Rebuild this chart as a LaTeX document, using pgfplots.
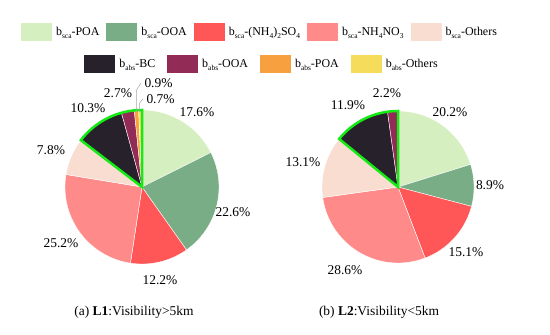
\documentclass[border=0pt]{standalone}
\usepackage{fontspec}
\setmainfont{Liberation Serif}
\usepackage{pgfplots}
\pgfplotsset{compat=1.18}
\definecolor{cPOA}{HTML}{D6EFC0}
\definecolor{cOOA}{HTML}{78AD85}
\definecolor{cSO4}{HTML}{FF5757}
\definecolor{cNO3}{HTML}{FF8A8A}
\definecolor{cOth}{HTML}{F8DDD0}
\definecolor{cBC}{HTML}{27212B}
\definecolor{caOOA}{HTML}{922C56}
\definecolor{caPOA}{HTML}{F6A040}
\definecolor{caOth}{HTML}{F5DC5A}
\definecolor{cGreen}{HTML}{14EB14}
% pie slice: centre x, centre y, radius, cumulative start (%), value (%), colour
\newcommand\slice[6]{%
  \pgfmathsetmacro\angA{90-3.6*(#4+#5)}%
  \pgfmathsetmacro\angB{90-3.6*(#4)}%
  \addplot[fill=#6, draw=white, line width=0.4pt, domain=\angA:\angB, samples=60, variable=\t, forget plot]
    ({#1+#3*cos(\t)},{#2+#3*sin(\t)}) -- (axis cs:#1,#2) -- cycle;
}
\newcommand\outlineslice[5]{%
  \pgfmathsetmacro\angA{90-3.6*(#4+#5)}%
  \pgfmathsetmacro\angB{90-3.6*(#4)}%
  \addplot[draw=cGreen, fill=none, line width=2.5bp, line join=miter, domain=\angA:\angB, samples=60, variable=\t, forget plot]
    ({#1+#3*cos(\t)},{#2+#3*sin(\t)}) -- (axis cs:#1,#2) -- cycle;
}
\newcommand\sub[1]{\raisebox{-3.5bp}{\fontsize{7.5}{8}\selectfont #1}}
\newcommand\lbl{\fontsize{13.5}{15}\selectfont}
\pgfplotsset{
  pieaxis/.style={width=550bp, height=334bp, scale only axis, xmin=0, xmax=550, ymin=0, ymax=334, hide axis, clip=false,
    legend image code/.code={\fill[##1, draw=none] (0bp,-9bp) rectangle (31bp,9bp);},
    legend cell align=left,
    legend style={draw=none, fill=none, anchor=center, inner sep=0pt, outer sep=0pt,
      font=\fontsize{12}{14}\selectfont,
      /tikz/every odd column/.append style={column sep=2bp},
      /tikz/every even column/.append style={column sep=5bp}}},
}
\begin{document}
\begin{tikzpicture}
\begin{axis}[pieaxis, legend columns=5, legend style={at={(0.4727,0.904)}}]
\addlegendimage{fill=cPOA}\addlegendentry{b\sub{sca}-POA}
\addlegendimage{fill=cOOA}\addlegendentry{b\sub{sca}-OOA}
\addlegendimage{fill=cSO4}\addlegendentry{b\sub{sca}-(NH\sub{4})\sub{2}SO\sub{4}}
\addlegendimage{fill=cNO3}\addlegendentry{b\sub{sca}-NH\sub{4}NO\sub{3}}
\addlegendimage{fill=cOth}\addlegendentry{b\sub{sca}-Others}
% Pie 1 (L1)
\slice{142}{147}{77}{0}{17.6}{cPOA}
\slice{142}{147}{77}{17.6}{22.6}{cOOA}
\slice{142}{147}{77}{40.2}{12.2}{cSO4}
\slice{142}{147}{77}{52.4}{25.2}{cNO3}
\slice{142}{147}{77}{77.6}{7.8}{cOth}
\slice{142}{147}{77}{85.4}{10.3}{cBC}
\slice{142}{147}{77}{95.7}{2.7}{caOOA}
\slice{142}{147}{77}{98.4}{0.9}{caPOA}
\slice{142}{147}{77}{99.3}{0.7}{caOth}
\outlineslice{142}{147}{77}{85.4}{14.6}
% Pie 2 (L2)
\slice{398}{147}{76}{0}{20.2}{cPOA}
\slice{398}{147}{76}{20.2}{8.9}{cOOA}
\slice{398}{147}{76}{29.1}{15.1}{cSO4}
\slice{398}{147}{76}{44.2}{28.6}{cNO3}
\slice{398}{147}{76}{72.8}{13.1}{cOth}
\slice{398}{147}{76}{85.9}{11.9}{cBC}
\slice{398}{147}{76}{97.8}{2.2}{caOOA}
\outlineslice{398}{147}{76}{85.9}{14.1}
% leader lines
\draw[gray!70, line width=0.5pt] (axis cs:136.5,222) -- (axis cs:136.5,244) -- (axis cs:141,251);
\draw[gray!70, line width=0.5pt] (axis cs:139.5,222) -- (axis cs:139.5,231) -- (axis cs:143,235);
% labels pie 1
\node[font=\lbl] at (axis cs:197,222) {17.6\%};
\node[font=\lbl] at (axis cs:233,122) {22.6\%};
\node[font=\lbl] at (axis cs:160,54) {12.2\%};
\node[font=\lbl] at (axis cs:61,91) {25.2\%};
\node[font=\lbl] at (axis cs:51,184) {7.8\%};
\node[font=\lbl] at (axis cs:88,226) {10.3\%};
\node[font=\lbl] at (axis cs:118,241) {2.7\%};
\node[font=\lbl, anchor=west] at (axis cs:141,251) {0.9\%};
\node[font=\lbl, anchor=west] at (axis cs:143,235) {0.7\%};
% labels pie 2
\node[font=\lbl] at (axis cs:450,222) {20.2\%};
\node[font=\lbl] at (axis cs:490,149) {8.9\%};
\node[font=\lbl] at (axis cs:466,82) {15.1\%};
\node[font=\lbl] at (axis cs:345,64) {28.6\%};
\node[font=\lbl] at (axis cs:303,172) {13.1\%};
\node[font=\lbl] at (axis cs:348,229) {11.9\%};
\node[font=\lbl] at (axis cs:387,241) {2.2\%};
% captions
\node[font=\fontsize{13.5}{16}\selectfont] at (axis cs:134,22) {(a) \textbf{L1}:Visibility>5km};
\node[font=\fontsize{13.5}{16}\selectfont] at (axis cs:379,22) {(b) \textbf{L2}:Visibility<5km};
\path (axis cs:0,0) rectangle (axis cs:550,334);
\end{axis}
\begin{axis}[pieaxis, legend columns=4, legend style={at={(0.4764,0.8084)}, /tikz/every even column/.append style={column sep=10bp}}]
\addlegendimage{fill=cBC}\addlegendentry{b\sub{abs}-BC}
\addlegendimage{fill=caOOA}\addlegendentry{b\sub{abs}-OOA}
\addlegendimage{fill=caPOA}\addlegendentry{b\sub{abs}-POA}
\addlegendimage{fill=caOth}\addlegendentry{b\sub{abs}-Others}
\path (axis cs:0,0) rectangle (axis cs:550,334);
\end{axis}
\end{tikzpicture}
\end{document}
